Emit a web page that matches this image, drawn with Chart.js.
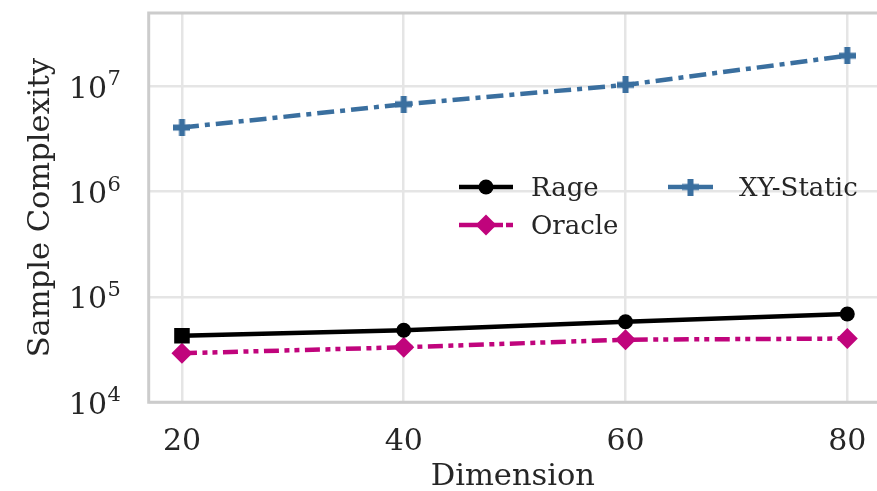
<!DOCTYPE html>
<html lang="en">
<head>
  <meta charset="UTF-8" />
  <title>Sample Complexity vs Dimension</title>
  <script src="https://cdn.jsdelivr.net/npm/chart.js"></script>
  <style>
    html, body { margin: 0; padding: 0; background: white; }
    #wrap { width: 877px; height: 491px; }
  </style>
</head>
<body>
  <div id="wrap"><canvas id="chart"></canvas></div>

  <script>
    // data
    const dimensions = [20, 40, 60, 80];
    const rage = [4.29e4, 4.83e4, 5.82e4, 6.89e4];
    const oracle = [2.92e4, 3.33e4, 3.93e4, 4.03e4];
    const xyStatic = [4.06e6, 6.75e6, 1.03e7, 1.95e7];
    const yExponents = [4, 5, 6, 7];

    const FONT = '"DejaVu Serif", serif';
    const TEXT = '#262626';
    const C_RAGE = '#000000';
    const C_ORACLE = '#c0047c';
    const C_XY = '#3a6f9f';
    const DASH_ORACLE = [15, 5.5, 5, 5, 5, 5.5];
    const DASH_XY = [17, 6, 5, 6];
    const LW = 4.5;

    // filled "plus" marker like matplotlib 'P'
    const plusMarker = (color, size, arm) => {
      const c = document.createElement('canvas');
      c.width = size; c.height = size;
      const g = c.getContext('2d');
      g.fillStyle = color;
      const a = (size - arm) / 2;
      g.fillRect(a, 0, arm, size);
      g.fillRect(0, a, size, arm);
      return c;
    };
    const plusXY = plusMarker(C_XY, 17, 6);

    const pts = vals => dimensions.map((d, i) => ({ x: d, y: vals[i] }));

    // spines: left, top, bottom (right one is off the picture)
    const spines = {
      id: 'spines',
      beforeDatasetsDraw(chart) {
        const { ctx, chartArea: a } = chart;
        ctx.save();
        ctx.strokeStyle = '#cccccc';
        ctx.lineWidth = 3;
        ctx.beginPath();
        ctx.moveTo(a.right + 5, a.top);
        ctx.lineTo(a.left, a.top);
        ctx.lineTo(a.left, a.bottom);
        ctx.lineTo(a.right + 5, a.bottom);
        ctx.stroke();
        ctx.restore();
      }
    };

    // tick labels: 10^n with real superscripts, and the x values
    const tickLabels = {
      id: 'tickLabels',
      afterDraw(chart) {
        const { ctx } = chart;
        const y = chart.scales.y;
        const x = chart.scales.x;
        ctx.save();
        ctx.fillStyle = TEXT;
        ctx.textBaseline = 'alphabetic';
        y.ticks.forEach(t => {
          const py = y.getPixelForValue(t.value);
          ctx.font = '30px ' + FONT;
          ctx.textAlign = 'right';
          ctx.fillText('10', 107, py + 11.5);
          ctx.font = '21px ' + FONT;
          ctx.textAlign = 'left';
          ctx.fillText(String(Math.round(Math.log10(t.value))), 107.5, py - 1);
        });
        ctx.font = '30px ' + FONT;
        ctx.textAlign = 'center';
        x.ticks.forEach(t => {
          ctx.fillText(String(t.value), x.getPixelForValue(t.value), 450);
        });
        ctx.restore();
      }
    };

    // two-column legend in the middle of the plot
    const legendBox = {
      id: 'legendBox',
      afterDatasetsDraw(chart) {
        const { ctx } = chart;
        const item = (x0, x1, y, color, dash, marker, label, tx) => {
          ctx.save();
          ctx.strokeStyle = color;
          ctx.lineWidth = LW;
          ctx.setLineDash(dash);
          ctx.beginPath();
          ctx.moveTo(x0, y);
          ctx.lineTo(x1, y);
          ctx.stroke();
          ctx.setLineDash([]);
          ctx.fillStyle = color;
          const mx = (x0 + x1) / 2;
          if (marker === 'circle') {
            ctx.beginPath();
            ctx.arc(mx, y, 7.5, 0, Math.PI * 2);
            ctx.fill();
          } else if (marker === 'diamond') {
            ctx.beginPath();
            ctx.moveTo(mx - 10.5, y);
            ctx.lineTo(mx, y - 10.5);
            ctx.lineTo(mx + 10.5, y);
            ctx.lineTo(mx, y + 10.5);
            ctx.closePath();
            ctx.fill();
          } else {
            ctx.drawImage(plusXY, mx - plusXY.width / 2, y - plusXY.height / 2);
          }
          ctx.fillStyle = TEXT;
          ctx.font = '26px ' + FONT;
          ctx.textAlign = 'left';
          ctx.textBaseline = 'alphabetic';
          ctx.fillText(label, tx, y + 9);
          ctx.restore();
        };
        item(459, 513, 187, C_RAGE, [], 'circle', 'Rage', 531);
        item(459, 513, 225, C_ORACLE, [44, 3, 10, 20], 'diamond', 'Oracle', 531);
        item(668, 713, 187, C_XY, [14, 3.5, 40], 'plus', 'XY-Static', 739);
      }
    };

    new Chart(document.getElementById('chart'), {
      type: 'line',
      data: {
        datasets: [
          {
            label: 'Rage',
            data: pts(rage),
            borderColor: C_RAGE,
            backgroundColor: C_RAGE,
            borderWidth: LW,
            pointStyle: ['rect', 'circle', 'circle', 'circle'],
            pointRadius: [11, 7.5, 7.5, 7.5],
            pointBorderWidth: 0,
            pointBackgroundColor: C_RAGE
          },
          {
            label: 'Oracle',
            data: pts(oracle),
            borderColor: C_ORACLE,
            backgroundColor: C_ORACLE,
            borderWidth: LW,
            borderDash: DASH_ORACLE,
            pointStyle: 'rectRot',
            pointRadius: 10.5,
            pointBorderWidth: 0,
            pointBackgroundColor: C_ORACLE
          },
          {
            label: 'XY-Static',
            data: pts(xyStatic),
            borderColor: C_XY,
            backgroundColor: C_XY,
            borderWidth: LW,
            borderDash: DASH_XY,
            pointStyle: plusXY,
            pointRadius: 8.5,
            pointBorderWidth: 0
          }
        ]
      },
      options: {
        responsive: true,
        maintainAspectRatio: false,
        animation: false,
        devicePixelRatio: 1,
        layout: { autoPadding: false, padding: { top: 13, left: 0, right: 0, bottom: 0 } },
        plugins: { legend: { display: false }, tooltip: { enabled: false } },
        scales: {
          x: {
            type: 'linear',
            min: 17,
            max: 82.68,
            afterFit: s => { s.height = 88.7; },
            afterBuildTicks: s => { s.ticks = dimensions.map(v => ({ value: v })); },
            grid: { color: '#e5e5e5', lineWidth: 2.5, drawTicks: false },
            border: { display: false },
            ticks: { display: false },
            title: {
              display: true, text: 'Dimension', color: TEXT,
              font: { family: FONT, size: 30.5 }, padding: { top: 0, bottom: -4.5 }
            }
          },
          y: {
            type: 'logarithmic',
            min: 1e4,
            max: 4.96e7,
            afterFit: s => { s.width = 148.7; },
            afterBuildTicks: s => { s.ticks = yExponents.map(e => ({ value: Math.pow(10, e) })); },
            grid: { color: '#e5e5e5', lineWidth: 2.5, drawTicks: false },
            border: { display: false },
            ticks: { display: false },
            title: {
              display: true, text: 'Sample Complexity', color: TEXT,
              font: { family: FONT, size: 30.5 }, padding: { top: 23, bottom: 0 }
            }
          }
        }
      },
      plugins: [spines, tickLabels, legendBox]
    });
  </script>
</body>
</html>
